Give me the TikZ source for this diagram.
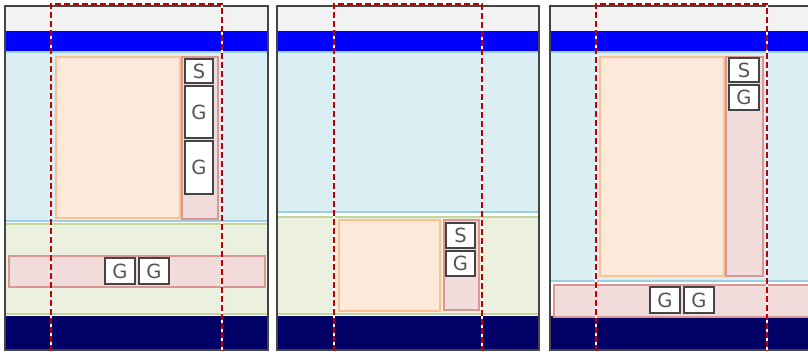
\documentclass[tikz,border=0pt]{standalone}
\usepackage{fontspec}
\setmainfont{DejaVu Sans}
\definecolor{frameC}{HTML}{444444}
\definecolor{greyband}{HTML}{F2F2F2}
\definecolor{blueband}{HTML}{0000FF}
\definecolor{navy}{HTML}{000066}
\definecolor{lblue}{HTML}{DBEEF4}
\definecolor{lblueline}{HTML}{9ACFE0}
\definecolor{lgreen}{HTML}{EBF1DE}
\definecolor{lgreenline}{HTML}{C3D69B}
\definecolor{orangefill}{HTML}{FDE9D9}
\definecolor{orangeline}{HTML}{FAC090}
\definecolor{pinkfill}{HTML}{F2DCDB}
\definecolor{pinkline}{HTML}{D99694}
\definecolor{redline}{HTML}{C00000}
\definecolor{textgrey}{HTML}{555555}
\tikzset{
  grey/.style={fill=greyband, draw=none},
  blueb/.style={fill=blueband, draw=none},
  navyb/.style={fill=navy, draw=none},
  lbluer/.style={fill=lblue, draw=lblueline, line width=1.2pt},
  lgreenr/.style={fill=lgreen, draw=lgreenline, line width=1.2pt},
  orangebox/.style={fill=orangefill, draw=orangeline, line width=1.6pt},
  pinkbox/.style={fill=pinkfill, draw=pinkline, line width=1.6pt},
  letterbox/.style={draw=frameC, fill=white, line width=1.8pt, inner sep=0pt, text=textgrey, font=\fontsize{19.5}{19.5}\selectfont},
  frame/.style={draw=frameC, line width=2.2pt},
  redunder/.style={draw=white, line width=2.6pt},
  reddash/.style={draw=redline, line width=2.4pt, dash pattern=on 6pt off 3pt}
}
\begin{document}
\begin{tikzpicture}[x=1pt,y=-1pt]
\useasboundingbox (0,0) rectangle (808,351);
% ---------- Panel 1 ----------
\fill[white] (5,6) rectangle (268,350);
\path[grey] (5,6) rectangle (268,31);
\path[blueb] (5,31) rectangle (268,51);
\path[lbluer] (5,52) rectangle (268,221);
\path[lgreenr] (5,224) rectangle (268,314);
\path[navyb] (5,316) rectangle (268,350);
\node[orangebox, anchor=north west, minimum width=124pt, minimum height=161pt, inner sep=0pt] (o1) at (55,56) {};
\node[pinkbox, anchor=north west, minimum width=36pt, minimum height=162pt, inner sep=0pt] (p1) at (181,56) {};
\node[letterbox, minimum width=28pt, minimum height=24pt] (s1) at (199,71) {S};
\node[letterbox, minimum width=28pt, minimum height=52pt] (g1a) at (199,112) {G};
\node[letterbox, minimum width=28pt, minimum height=53pt] (g1b) at (199,167.5) {G};
\node[pinkbox, anchor=north west, minimum width=256pt, minimum height=31pt, inner sep=0pt] (bar1) at (8,255) {};
\node[letterbox, minimum width=30pt, minimum height=26pt] (g1c) at (120,271) {G};
\node[letterbox, minimum width=30pt, minimum height=26pt] (g1d) at (154,271) {G};
\draw[frame] (5,6) rectangle (268,350);
\draw[redunder] (51,351) -- (51,4) -- (222,4) -- (222,351);
\draw[reddash] (51,351) -- (51,4) -- (222,4) -- (222,351);
% ---------- Panel 2 ----------
\fill[white] (277,6) rectangle (539,350);
\path[grey] (277,6) rectangle (539,31);
\path[blueb] (277,31) rectangle (539,51);
\path[lbluer] (277,52) rectangle (539,212);
\path[lgreenr] (277,217) rectangle (539,314);
\path[navyb] (277,316) rectangle (539,350);
\node[orangebox, anchor=north west, minimum width=101pt, minimum height=91pt, inner sep=0pt] (o2) at (338,219) {};
\node[pinkbox, anchor=north west, minimum width=35pt, minimum height=90pt, inner sep=0pt] (p2) at (443,219) {};
\node[letterbox, minimum width=29pt, minimum height=25pt] (s2) at (460.5,235.5) {S};
\node[letterbox, minimum width=29pt, minimum height=25pt] (g2) at (460.5,263.5) {G};
\draw[frame] (277,6) rectangle (539,350);
\draw[redunder] (334,351) -- (334,4) -- (482,4) -- (482,351);
\draw[reddash] (334,351) -- (334,4) -- (482,4) -- (482,351);
% ---------- Panel 3 ----------
\fill[white] (550,6) rectangle (810,350);
\path[grey] (550,6) rectangle (810,31);
\path[blueb] (550,31) rectangle (810,51);
\path[lbluer] (550,52) rectangle (810,281);
\path[navyb] (550,316) rectangle (810,350);
\node[orangebox, anchor=north west, minimum width=124pt, minimum height=219pt, inner sep=0pt] (o3) at (599,56) {};
\node[pinkbox, anchor=north west, minimum width=37pt, minimum height=219pt, inner sep=0pt] (p3) at (725,56) {};
\node[letterbox, minimum width=30pt, minimum height=24pt] (s3) at (744,70) {S};
\node[letterbox, minimum width=30pt, minimum height=25pt] (g3) at (744,97.5) {G};
\node[pinkbox, anchor=north west, minimum width=260pt, minimum height=32pt, inner sep=0pt] (bar3) at (553,284) {};
\node[letterbox, minimum width=30pt, minimum height=26pt] (g3c) at (665,300) {G};
\node[letterbox, minimum width=30pt, minimum height=26pt] (g3d) at (699,300) {G};
\draw[frame] (810,6) -- (550,6) -- (550,350) -- (810,350);
\draw[redunder] (596,351) -- (596,4) -- (767,4) -- (767,351);
\draw[reddash] (596,351) -- (596,4) -- (767,4) -- (767,351);
\end{tikzpicture}
\end{document}
